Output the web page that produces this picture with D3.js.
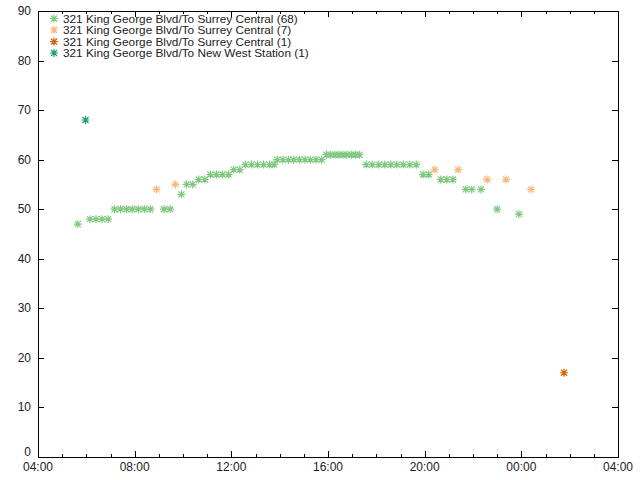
<!DOCTYPE html>
<html>
<head>
<meta charset="utf-8">
<script src="https://cdn.jsdelivr.net/npm/d3@7"></script>
<style>
body { margin: 0; background: #fff; }
svg { font-family: "Liberation Sans", Arial, sans-serif; }
</style>
</head>
<body>
<svg id="chart" width="640" height="480"></svg>
<script>
// ---- data ----
const seriesNames = [
  "321 King George Blvd/To Surrey Central (68)",
  "321 King George Blvd/To Surrey Central (7)",
  "321 King George Blvd/To Surrey Central (1)",
  "321 King George Blvd/To New West Station (1)"
];
const seriesColors = ["#7fc97f", "#fdb57a", "#d95f02", "#1b9e77"];

const s1Times = ["05:39","06:09","06:24","06:39","06:54","07:10","07:25","07:40","07:54","08:09","08:24","08:39","09:13","09:28","09:56","10:09","10:24","10:39","10:54","11:08","11:23","11:38","11:53","12:06","12:21","12:35","12:50","13:05","13:20","13:35","13:46","13:54","14:08","14:22","14:35","14:49","15:03","15:16","15:30","15:44","15:56","16:06","16:17","16:27","16:37","16:47","16:58","17:08","17:18","17:35","17:50","18:06","18:21","18:36","18:51","19:07","19:23","19:39","19:56","20:10","20:40","20:55","21:10","21:42","21:57","22:20","23:00","23:54"];
const s1Values = [47,48,48,48,48,50,50,50,50,50,50,50,50,50,53,55,55,56,56,57,57,57,57,58,58,59,59,59,59,59,59,60,60,60,60,60,60,60,60,60,61,61,61,61,61,61,61,61,61,59,59,59,59,59,59,59,59,59,57,57,56,56,56,54,54,54,50,49];

const s2Times = ["08:54","09:41","20:25","21:23","22:35","23:22","00:24"];
const s2Values = [54,55,58,58,56,56,54];

const s3Times = ["01:46"];
const s3Values = [17];

const s4Times = ["05:58"];
const s4Values = [68];

const xTickLabels = ["04:00","08:00","12:00","16:00","20:00","00:00","04:00"];
const yTicks = [0,10,20,30,40,50,60,70,80,90];

// ---- helpers ----
function toDate(t, nextDayFlag) {
  const [h, m] = t.split(":").map(Number);
  const day = (h < 4 || nextDayFlag) ? 2 : 1;
  return new Date(2000, 0, day, h, m);
}

const allSeries = [
  {times: s1Times, values: s1Values},
  {times: s2Times, values: s2Values},
  {times: s3Times, values: s3Values},
  {times: s4Times, values: s4Values}
].map((s, i) => ({
  name: seriesNames[i],
  color: seriesColors[i],
  points: s.times.map((t, j) => ({x: toDate(t), y: s.values[j]}))
}));

// ---- layout ----
const margin = {left: 38, right: 22, top: 11, bottom: 23};
const W = 640, H = 480;
const svg = d3.select("#chart");

const x = d3.scaleTime()
  .domain([new Date(2000,0,1,4,0), new Date(2000,0,2,4,0)])
  .range([margin.left, W - margin.right]);
const y = d3.scaleLinear()
  .domain([0, 90])
  .range([H - margin.bottom, margin.top]);

const majorX = xTickLabels.map((t, i) => toDate(t, i === xTickLabels.length - 1));
const minorX = d3.timeHour.range(x.domain()[0], x.domain()[1]).filter(d => d.getHours() % 4 !== 0);

const x0 = x.range()[0], x1 = x.range()[1], y0 = y.range()[0], y1 = y.range()[1];
const g = svg.append("g");

// ticks (inward, mirrored)
const tickG = g.append("g").attr("stroke", "#000").attr("stroke-width", 1).attr("shape-rendering", "crispEdges");
majorX.forEach(d => {
  const px = Math.round(x(d)) + 0.5;
  tickG.append("line").attr("x1", px).attr("x2", px).attr("y1", y0).attr("y2", y0 - 6);
  tickG.append("line").attr("x1", px).attr("x2", px).attr("y1", y1).attr("y2", y1 + 6);
});
minorX.forEach(d => {
  const px = Math.round(x(d)) + 0.5;
  tickG.append("line").attr("x1", px).attr("x2", px).attr("y1", y0).attr("y2", y0 - 3);
  tickG.append("line").attr("x1", px).attr("x2", px).attr("y1", y1).attr("y2", y1 + 3);
});
yTicks.forEach(v => {
  const py = Math.round(y(v)) + 0.5;
  tickG.append("line").attr("x1", x0).attr("x2", x0 + 6).attr("y1", py).attr("y2", py);
  tickG.append("line").attr("x1", x1).attr("x2", x1 - 6).attr("y1", py).attr("y2", py);
});

// border
g.append("rect")
  .attr("x", Math.round(x0) + 0.5).attr("y", Math.round(y1) + 0.5)
  .attr("width", Math.round(x1) - Math.round(x0)).attr("height", Math.round(y0) - Math.round(y1))
  .attr("fill", "none").attr("stroke", "#000").attr("stroke-width", 1)
  .attr("shape-rendering", "crispEdges");

// tick labels
const labelG = g.append("g").attr("font-size", 12).attr("fill", "#222");
majorX.forEach((d, i) => {
  labelG.append("text").attr("x", x(d)).attr("y", y0 + 14)
    .attr("text-anchor", "middle").text(xTickLabels[i]);
});
yTicks.forEach(v => {
  const shift = v === 0 ? -5 : 0;
  labelG.append("text").attr("x", x0 - 7).attr("y", y(v) + 4 + shift)
    .attr("text-anchor", "end").text(v);
});

// asterisk marker
const star = "M-4,0H4M0,-4V4M-3,-3L3,3M-3,3L3,-3";

allSeries.forEach(s => {
  g.append("g").selectAll("path").data(s.points).join("path")
    .attr("d", star)
    .attr("transform", d => `translate(${x(d.x)},${y(d.y)})`)
    .attr("stroke", s.color).attr("stroke-width", 1.2).attr("fill", "none");
});

// legend
const leg = g.append("g").attr("font-size", 11.8).attr("fill", "#222");
allSeries.forEach((s, i) => {
  const ly = 18.5 + i * 11.5;
  leg.append("path").attr("d", star).attr("transform", `translate(54,${ly})`)
    .attr("stroke", s.color).attr("stroke-width", 1.2).attr("fill", "none");
  leg.append("text").attr("x", 63).attr("y", ly + 4).text(s.name);
});
</script>
</body>
</html>
